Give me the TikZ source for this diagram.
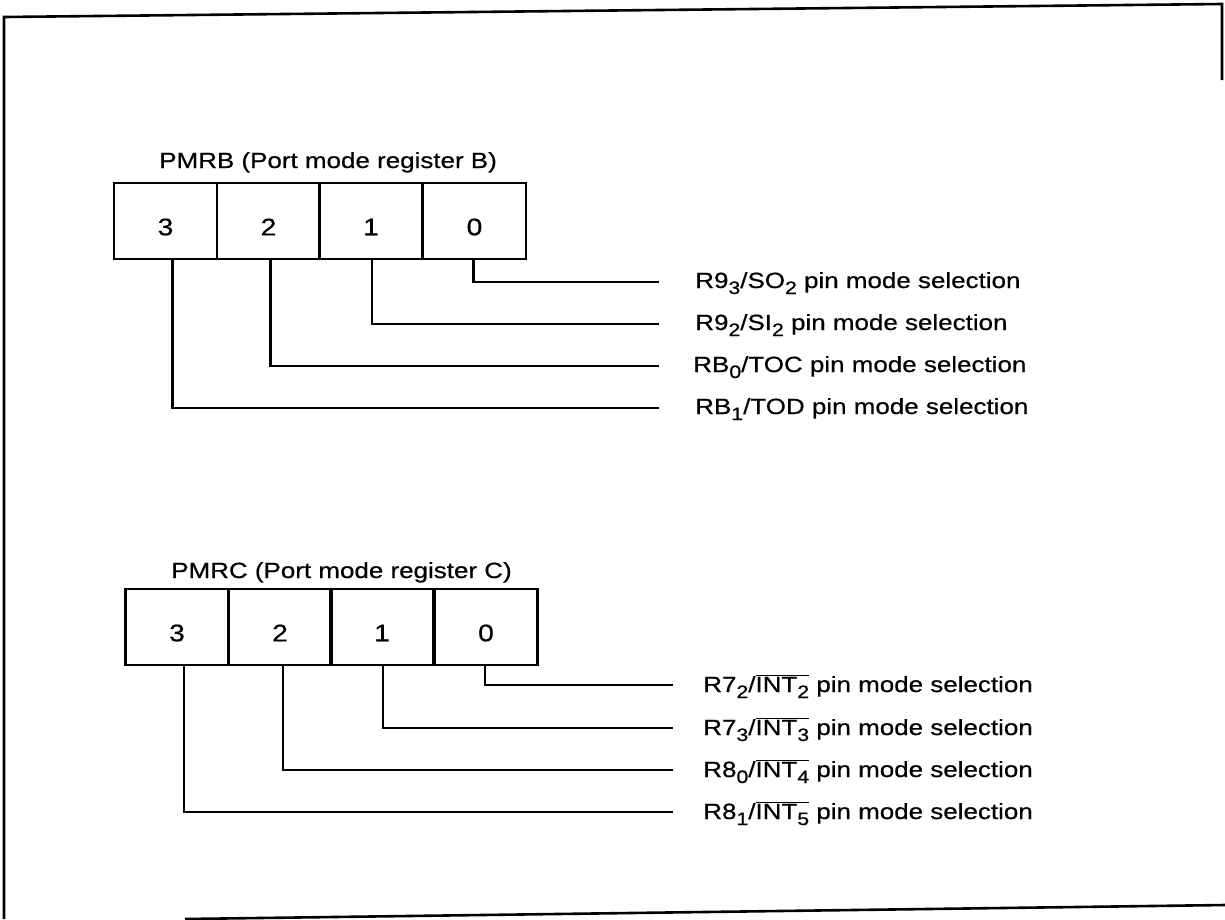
\documentclass[tikz,border=0pt]{standalone}
\usepackage{fontspec}
\setmainfont{Liberation Sans}[FakeStretch=1.18,FakeBold=0.6]
\newcommand{\lo}[1]{\raisebox{-6pt}{\fontsize{18}{18}\selectfont #1}}
\newcommand{\ovl}[1]{$\overline{\hbox{#1}}$}
\begin{document}
\begin{tikzpicture}[x=1pt,y=-1pt,line width=2.6pt,
  cell/.style={draw,minimum width=103pt,minimum height=76pt,inner sep=0pt},
  dig/.style={font=\fontsize{24}{24}\selectfont},
  lbl/.style={anchor=base west,inner sep=0pt,font=\fontsize{22}{26}\selectfont},
  ttl/.style={anchor=base west,inner sep=0pt,font=\fontsize{22}{26}\selectfont},
  lead/.style={line width=2.6pt}]
\useasboundingbox (0,0) rectangle (1225,919);
% frame
\coordinate (f1) at (4,919);
\coordinate (f2) at (4,17);
\coordinate (f3) at (1222,4);
\coordinate (f4) at (1222,80);
\coordinate (f5) at (185,919);
\coordinate (f6) at (1225,905);
\draw (f1) -- (f2) -- (f3) -- (f4);
\draw (f5) -- (f6);
% ---------- PMRB ----------
\node[ttl] (tB) at (158,168) {PMRB (Port mode register B)};
\node[cell,label={[dig,yshift=-6pt]center:3}] (b3) at (165.5,221) {};
\node[cell,label={[dig,yshift=-6pt]center:2}] (b2) at (268.5,221) {};
\node[cell,label={[dig,yshift=-6pt]center:1}] (b1) at (371,221) {};
\node[cell,label={[dig,yshift=-6pt]center:0}] (b0) at (474.5,221) {};
\coordinate (eb0) at (659,282);
\coordinate (eb1) at (659,324);
\coordinate (eb2) at (659,366);
\coordinate (eb3) at (659,408);
\draw[lead] ([xshift=-1pt]b0.south) |- (eb0);
\draw[lead] ([xshift=1pt]b1.south) |- (eb1);
\draw[lead] ([xshift=2pt]b2.south) |- (eb2);
\draw[lead] ([xshift=7pt]b3.south) |- (eb3);
\node[lbl] (lb0) at (694,288) {R9\lo{3}/SO\lo{2} pin mode selection};
\node[lbl] (lb1) at (694,330) {R9\lo{2}/SI\lo{2} pin mode selection};
\node[lbl] (lb2) at (692,372) {RB\lo{0}/TOC pin mode selection};
\node[lbl] (lb3) at (694,414) {RB\lo{1}/TOD pin mode selection};
% ---------- PMRC ----------
\node[ttl] (tC) at (170,578) {PMRC (Port mode register C)};
\node[cell,label={[dig,yshift=-6pt]center:3}] (c3) at (177,627) {};
\node[cell,label={[dig,yshift=-6pt]center:2}] (c2) at (280,627) {};
\node[cell,label={[dig,yshift=-6pt]center:1}] (c1) at (382,627) {};
\node[cell,label={[dig,yshift=-6pt]center:0}] (c0) at (486,627) {};
\coordinate (ec0) at (673,685);
\coordinate (ec1) at (673,728);
\coordinate (ec2) at (673,770);
\coordinate (ec3) at (673,812);
\draw[lead] ([xshift=-1pt]c0.south) |- (ec0);
\draw[lead] ([xshift=1pt]c1.south) |- (ec1);
\draw[lead] ([xshift=3pt]c2.south) |- (ec2);
\draw[lead] ([xshift=7pt]c3.south) |- (ec3);
\node[lbl] (lc0) at (702,692) {R7\lo{2}/\ovl{INT\lo{2}} pin mode selection};
\node[lbl] (lc1) at (702,735) {R7\lo{3}/\ovl{INT\lo{3}} pin mode selection};
\node[lbl] (lc2) at (702,777) {R8\lo{0}/\ovl{INT\lo{4}} pin mode selection};
\node[lbl] (lc3) at (702,819) {R8\lo{1}/\ovl{INT\lo{5}} pin mode selection};
\end{tikzpicture}
\end{document}
